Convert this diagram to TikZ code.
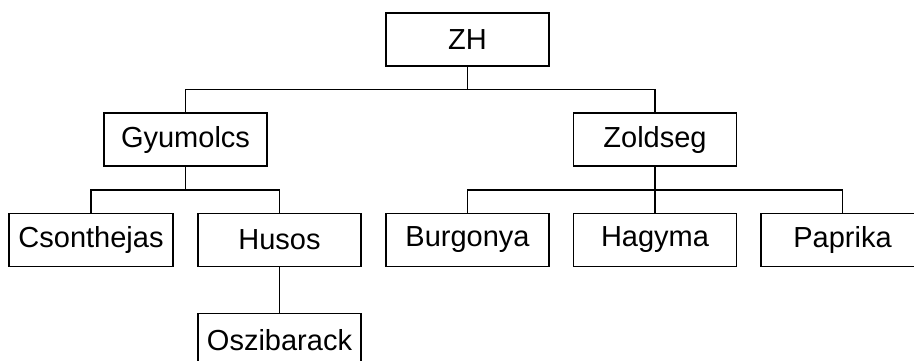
\documentclass[tikz,border=0pt]{standalone}
\usepackage{fontspec}
\setmainfont{Liberation Sans}
\begin{document}
\begin{tikzpicture}[x=1pt,y=-1pt,
  box/.style={draw, line width=1.7pt, minimum width=163pt, minimum height=53pt, inner sep=0pt,
    font=\fontsize{29}{34}\selectfont},
  link/.style={line width=1.7pt}]
\useasboundingbox (0,0) rectangle (914,360);
\clip (0,0) rectangle (914,360);
\node[box] (zh) at (467.5,39.5) {ZH};
\node[box] (gy) at (185.5,139.5) {Gyumolcs};
\node[box] (zo) at (655,139.5) {Zoldseg};
\node[box, minimum width=164pt] (cs) at (91,240) {Csonthejas};
\node[box] (hu) at (279.5,240) {Husos};
\node[box] (os) at (279.5,340) {Oszibarack};
\node[box] (bu) at (467.5,240) {Burgonya};
\node[box] (ha) at (655,240) {Hagyma};
\node[box] (pa) at (842.5,240) {Paprika};
\coordinate (j1) at (467.5,89.5);
\coordinate (j2) at (185.5,190);
\coordinate (j3) at (655,190);
\draw[link] (zh.south) -- (j1);
\draw[link] (gy.north) |- (j1) -| (zo.north);
\draw[link] (gy.south) -- (j2);
\draw[link] (cs.north) |- (j2) -| (hu.north);
\draw[link] (hu.south) -- (os.north);
\draw[link] (zo.south) -- (j3);
\draw[link] (bu.north) |- (j3) -| (pa.north);
\draw[link] (j3) -- (ha.north);
\end{tikzpicture}
\end{document}
